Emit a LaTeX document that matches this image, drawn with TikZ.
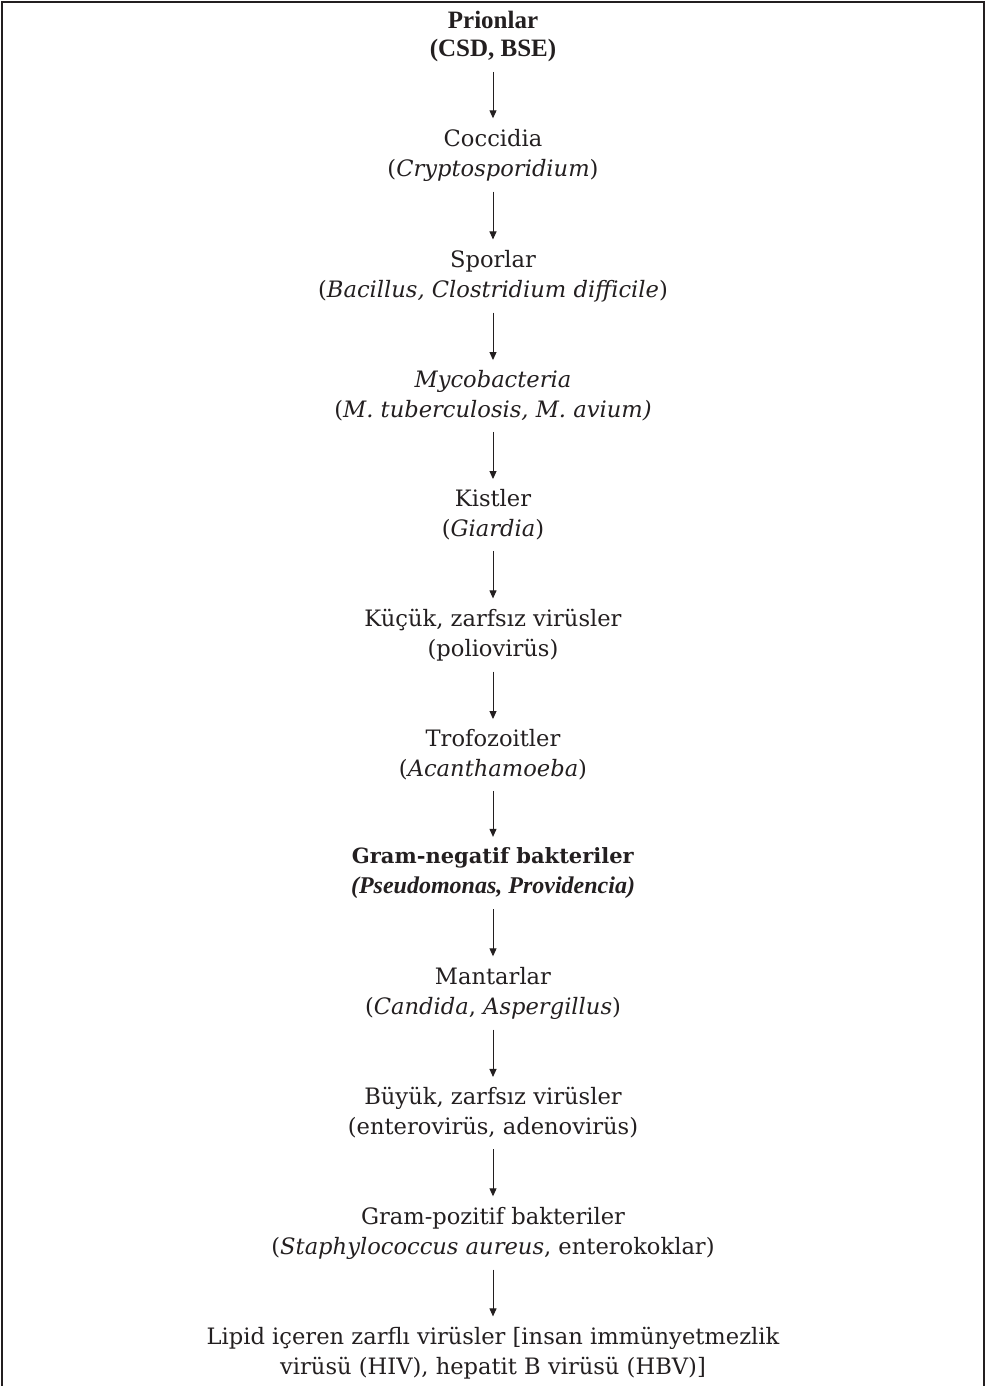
\documentclass[tikz,border=0pt]{standalone}
\usepackage{fontspec}
\setmainfont{DejaVu Serif}
\newfontfamily\titrefont{Liberation Serif}
\usetikzlibrary{arrows.meta}
\definecolor{encre}{HTML}{231F20}

\tikzset{
  etape/.style={align=center, inner sep=5.1pt, text=encre, font=\fontsize{11.3}{15}\selectfont},
  fleche/.style={-{Triangle[length=4pt,width=3.5pt]}, draw=encre, line width=0.5pt},
}

\begin{document}
\begin{tikzpicture}[x=0.5pt,y=-0.5pt] % une unité = un pixel de l'image
\useasboundingbox (0,0) rectangle (987,1386);
% Le cadre (ouvert en bas)
\draw[encre, line width=1pt] (2,1386) -- (2,2) -- (984,2) -- (984,1386);

% Les étapes, de la plus résistante à la moins résistante
\node[etape, font=\titrefont\bfseries\fontsize{12.5}{14}\selectfont] (prion) at (493,36) {Prionlar\\(CSD, BSE)};
\node[etape] (cocc) at (493,155) {Coccidia\\(\textit{Cryptosporidium})};
\node[etape] (spor) at (493,276) {Sporlar\\(\textit{Bacillus, Clostridium difficile})};
\node[etape] (myco) at (493,396) {\textit{Mycobacteria}\\(\textit{M. tuberculosis, M. avium)}};
\node[etape] (kist) at (493,515) {Kistler\\(\textit{Giardia})};
\node[etape] (kucuk) at (493,635) {Küçük, zarfsız virüsler\\(poliovirüs)};
\node[etape] (trofo) at (493,755) {Trofozoitler\\(\textit{Acanthamoeba})};
\node[etape, font=\fontsize{10.5}{15}\selectfont] (gramneg) at (493,873) {\textbf{Gram-negatif bakteriler}\\{\titrefont\bfseries\itshape\fontsize{12}{15}\selectfont (Pseudomonas, Providencia)}};
\node[etape] (mantar) at (493,993) {Mantarlar\\(\textit{Candida}, \textit{Aspergillus})};
\node[etape] (buyuk) at (493,1113) {Büyük, zarfsız virüsler\\(enterovirüs, adenovirüs)};
\node[etape] (grampoz) at (493,1233) {Gram-pozitif bakteriler\\(\textit{Staphylococcus aureus}, enterokoklar)};
\node[etape] (lipid) at (493,1353) {Lipid içeren zarflı virüsler [insan immünyetmezlik\\virüsü (HIV), hepatit B virüsü (HBV)]};

% Les flèches entre les étapes
\draw[fleche] (prion) -- (cocc);
\draw[fleche] (cocc) -- (spor);
\draw[fleche] (spor) -- (myco);
\draw[fleche] (myco) -- (kist);
\draw[fleche] (kist) -- (kucuk);
\draw[fleche] (kucuk) -- (trofo);
\draw[fleche] (trofo) -- (gramneg);
\draw[fleche] (gramneg) -- (mantar);
\draw[fleche] (mantar) -- (buyuk);
\draw[fleche] (buyuk) -- (grampoz);
\draw[fleche] (grampoz) -- (lipid);
\end{tikzpicture}
\end{document}
